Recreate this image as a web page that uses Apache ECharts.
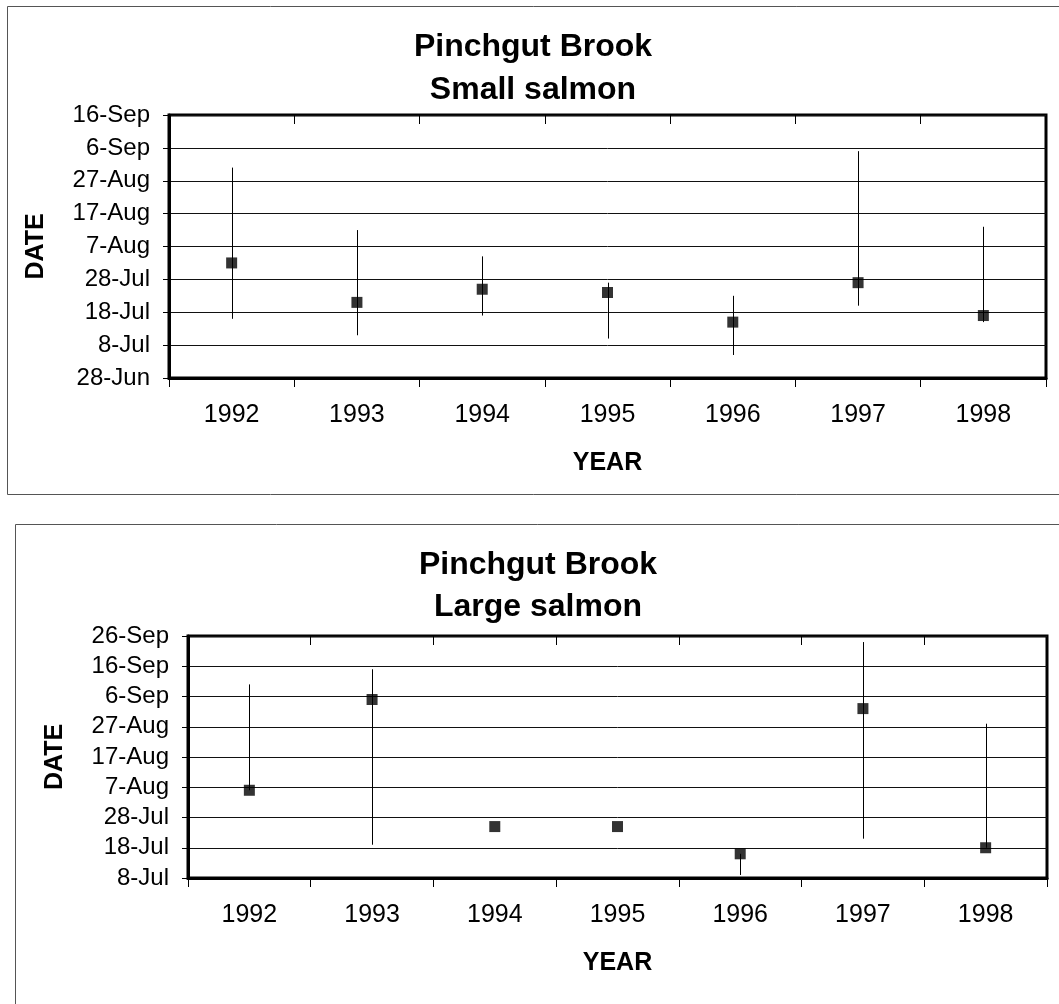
<!DOCTYPE html>
<html>
<head>
<meta charset="utf-8">
<script src="https://cdn.jsdelivr.net/npm/echarts@6/dist/echarts.min.js"></script>
<style>
html,body{margin:0;padding:0;background:#fff;}
#chart{width:1059px;height:1004px;}
</style>
</head>
<body>
<div id="chart"></div>
<script>
// Categories
const years = ['1992', '1993', '1994', '1995', '1996', '1997', '1998'];
// Y values are days after 28-Jun; tick labels every 10 days
const dateLabels = ['28-Jun', '8-Jul', '18-Jul', '28-Jul', '7-Aug', '17-Aug', '27-Aug', '6-Sep', '16-Sep', '26-Sep'];

// Small salmon: mean date, upper and lower bar ends
const smallMean = [35, 23, 27, 26, 17, 29, 19];
const smallHigh = [64, 45, 37, 29, 25, 69, 46];
const smallLow  = [18, 13, 19, 12, 7, 22, 17];

// Large salmon
const largeMean = [39, 69, 27, 27, 18, 66, 20];
const largeHigh = [74, 79, null, null, 18, 88, 61];
const largeLow  = [39, 21, null, null, 11, 23, 20];

const FONT = 'Liberation Sans, Arial, sans-serif';

function barData(low, high) {
  const out = [];
  for (let i = 0; i < years.length; i++) {
    if (low[i] != null && high[i] != null) out.push([i, low[i], high[i]]);
  }
  return out;
}
function pts(mean) { return years.map((y, i) => [y, mean[i]]); }

function renderBar(params, api) {
  const x = api.value(0);
  const a = api.coord([x, api.value(1)]);
  const b = api.coord([x, api.value(2)]);
  return {
    type: 'line',
    shape: { x1: Math.round(a[0]) + 0.5, y1: a[1], x2: Math.round(a[0]) + 0.5, y2: b[1] },
    style: { stroke: '#000', lineWidth: 1 }
  };
}

const fmt = v => dateLabels[Math.round(v / 10)];

function xAxisDef(gi, withLabels) {
  return {
    type: 'category', gridIndex: gi, data: years, boundaryGap: true,
    name: withLabels ? 'YEAR' : '', nameLocation: 'middle', nameGap: 85,
    nameTextStyle: { fontFamily: FONT, fontSize: 25, fontWeight: 'bold', color: '#000', verticalAlign: 'middle' },
    axisLine: { show: true, lineStyle: { color: '#000', width: 3 } },
    axisTick: { show: true, alignWithLabel: false, inside: !withLabels, length: 9, lineStyle: { color: '#000', width: 1 } },
    axisLabel: { show: withLabels, fontFamily: FONT, fontSize: 25, color: '#000', margin: 25 },
    splitLine: { show: false }
  };
}
function yAxisDef(gi, min, max) {
  return {
    type: 'value', gridIndex: gi, min: min, max: max, interval: 10,
    name: 'DATE', nameLocation: 'middle', nameRotate: 90, nameGap: 120,
    nameTextStyle: { fontFamily: FONT, fontSize: 25, fontWeight: 'bold', color: '#000' },
    axisLine: { show: true, lineStyle: { color: '#000', width: 3 } },
    axisTick: { show: true, length: 6, lineStyle: { color: '#000', width: 1 } },
    axisLabel: { fontFamily: FONT, fontSize: 24, color: '#000', margin: 19, formatter: fmt },
    splitLine: { show: true, lineStyle: { color: '#111', width: 1 } }
  };
}

const chart = echarts.init(document.getElementById('chart'), null, { renderer: 'canvas' });
chart.setOption({
  backgroundColor: '#fff',
  animation: false,
  title: [
    { text: 'Pinchgut Brook\nSmall salmon', left: 533, top: 26, textAlign: 'center', padding: 0,
      textStyle: { fontFamily: FONT, fontSize: 32, fontWeight: 'bold', color: '#000', lineHeight: 43 } },
    { text: 'Pinchgut Brook\nLarge salmon', left: 538, top: 544, textAlign: 'center', padding: 0,
      textStyle: { fontFamily: FONT, fontSize: 32, fontWeight: 'bold', color: '#000', lineHeight: 42 } }
  ],
  graphic: [
    { type: 'rect', shape: { x: 7.5, y: 6.5, width: 1100, height: 488 }, style: { fill: 'none', stroke: '#555', lineWidth: 1 }, silent: true },
    { type: 'rect', shape: { x: 15.5, y: 524.5, width: 1100, height: 600 }, style: { fill: 'none', stroke: '#555', lineWidth: 1 }, silent: true }
  ],
  grid: [
    { left: 169, top: 115, width: 877, height: 263, show: true, borderColor: '#000', borderWidth: 3, backgroundColor: 'transparent' },
    { left: 188, top: 636, width: 859, height: 242, show: true, borderColor: '#000', borderWidth: 3, backgroundColor: 'transparent' }
  ],
  xAxis: [
    xAxisDef(0, true), xAxisDef(1, true),
    Object.assign(xAxisDef(0, false), { axisLine: { show: false } }),
    Object.assign(xAxisDef(1, false), { axisLine: { show: false } })
  ],
  yAxis: [yAxisDef(0, 0, 80), yAxisDef(1, 10, 90)],
  series: [
    { type: 'custom', xAxisIndex: 0, yAxisIndex: 0, renderItem: renderBar, data: barData(smallLow, smallHigh), z: 2 },
    { type: 'scatter', xAxisIndex: 0, yAxisIndex: 0, symbol: 'rect', symbolSize: 11, itemStyle: { color: '#000' }, data: pts(smallMean), z: 3 },
    { type: 'custom', xAxisIndex: 1, yAxisIndex: 1, renderItem: renderBar, data: barData(largeLow, largeHigh), z: 2 },
    { type: 'scatter', xAxisIndex: 1, yAxisIndex: 1, symbol: 'rect', symbolSize: 11, itemStyle: { color: '#000' }, data: pts(largeMean), z: 3 }
  ]
});
</script>
</body>
</html>
